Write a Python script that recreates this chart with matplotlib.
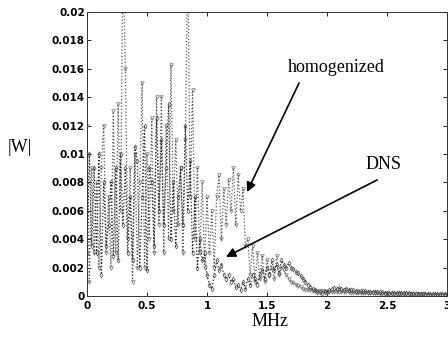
import numpy as np
import matplotlib
matplotlib.use("Agg")
import matplotlib.pyplot as plt

# frequency axis (MHz)
freq = [round(0.02 * i, 2) for i in range(151)]

# |W| values, in units of 1e-3
homogenized = [
    12, 1, 9, 3, 8, 2, 9, 12, 3, 7,
    2, 13, 3, 13.5, 6, 24, 16, 4, 9, 1,
    10, 2, 8, 15, 2, 10, 4, 12.5, 3, 14,
    5, 14, 3, 12, 4, 16.3, 6, 11, 5, 9,
    3, 11, 24, 7, 14.5, 4, 9, 3, 8, 2,
    7, 3, 6, 2, 7, 8.5, 4, 7.5, 5, 8.2,
    6, 9, 5, 8.5, 6, 7.5, 3.5, 4, 1.5, 3.5,
    1, 3, 1.2, 2.8, 1, 2.5, 1.5, 2, 1.2, 2.8,
    1.5, 2, 1.8, 1.5, 1.2, 1.0, 0.9, 0.8, 0.7, 0.6,
    0.5, 0.45, 0.42, 0.4, 0.38, 0.36, 0.35, 0.34, 0.33, 0.32,
    0.31, 0.3, 0.3, 0.29, 0.28, 0.28, 0.27, 0.26, 0.26, 0.25,
    0.24, 0.24, 0.23, 0.22, 0.22, 0.21, 0.2, 0.2, 0.19, 0.19,
    0.18, 0.18, 0.17, 0.17, 0.16, 0.16, 0.15, 0.15, 0.14, 0.14,
    0.14, 0.13, 0.13, 0.13, 0.12, 0.12, 0.12, 0.11, 0.11, 0.11,
    0.11, 0.1, 0.1, 0.1, 0.1, 0.1, 0.1, 0.1, 0.1, 0.1,
    0.1,
]
dns = [
    3, 10, 3.5, 9, 3, 10, 1.5, 8, 3.5, 5,
    8, 2.8, 9, 2.5, 10, 5, 9, 3, 7, 2.5,
    10.5, 9.5, 2, 7, 12, 1.8, 9, 8, 3.5, 12.5,
    6, 11, 5, 9, 13.5, 4, 8, 3.5, 7, 9,
    5, 12, 6, 9.5, 3, 7, 2, 4, 2.5, 3,
    1.5, 0.8, 0.5, 1.5, 2.5, 1.8, 2.2, 1.5, 1.2, 1.5,
    1.0, 1.2, 0.6, 0.8, 0.4, 1.0, 0.5, 1.2, 0.8, 1.5,
    1.2, 0.8, 1.5, 1.8, 1.2, 2.0, 1.5, 2.5, 1.8, 2.2,
    1.6, 2.5, 2.2, 2.0, 2.3, 2.0, 1.9, 1.7, 1.6, 1.4,
    1.2, 1.0, 0.8, 0.65, 0.5, 0.4, 0.3, 0.25, 0.2, 0.25,
    0.3, 0.4, 0.5, 0.55, 0.5, 0.55, 0.5, 0.45, 0.5, 0.45,
    0.4, 0.42, 0.38, 0.36, 0.35, 0.33, 0.32, 0.3, 0.3, 0.28,
    0.27, 0.26, 0.25, 0.25, 0.24, 0.23, 0.22, 0.22, 0.21, 0.2,
    0.2, 0.19, 0.19, 0.18, 0.18, 0.17, 0.17, 0.16, 0.16, 0.15,
    0.15, 0.15, 0.14, 0.14, 0.14, 0.13, 0.13, 0.13, 0.12, 0.12,
    0.12,
]

xticks = [0, 0.5, 1, 1.5, 2, 2.5, 3]
xticklabels = ["0", "0.5", "1", "1.5", "2", "2.5", "3"]
yticks = [0, 0.002, 0.004, 0.006, 0.008, 0.01, 0.012, 0.014, 0.016, 0.018, 0.02]
yticklabels = ["0", "0.002", "0.004", "0.006", "0.008", "0.01", "0.012",
               "0.014", "0.016", "0.018", "0.02"]

fig = plt.figure(figsize=(4.48, 3.37), dpi=100)
ax = fig.add_axes([0.194, 0.1217, 0.804, 0.8427])

h = np.array(homogenized) * 1e-3
d = np.array(dns) * 1e-3
ax.plot(freq, h, color="0.35", ls=":", lw=0.9, marker="v", ms=2.6,
        mfc="none", mec="0.45", mew=0.5)
ax.plot(freq, d, color="0.15", ls=":", lw=0.9, marker="d", ms=2.6,
        mfc="none", mec="0.3", mew=0.5)

ax.set_xlim(0, 3)
ax.set_ylim(0, 0.02)
ax.set_xticks(xticks)
ax.set_xticklabels(xticklabels)
ax.set_yticks(yticks)
ax.set_yticklabels(yticklabels)
ax.tick_params(direction="in", length=3, width=0.6, top=True, right=True,
               labelsize=7.5, colors="black")
ax.tick_params(axis="y", pad=1.5)
ax.tick_params(axis="x", pad=3.5)
for lab in ax.get_xticklabels() + ax.get_yticklabels():
    lab.set_fontweight("bold")
for s in ax.spines.values():
    s.set_linewidth(0.7)
    s.set_linestyle((0, (2, 1)))
    s.set_color("0.2")

serif = ["Liberation Serif", "DejaVu Serif"]
ax.text(2.08, 0.0161, "homogenized", family=serif, fontsize=13,
        ha="center", va="center")
ax.text(2.47, 0.00925, "DNS", family=serif, fontsize=13,
        ha="center", va="center")
ax.annotate("", xy=(1.333, 0.00732), xytext=(1.767, 0.0150),
            arrowprops=dict(arrowstyle="-|>", color="k", lw=1.2,
                            mutation_scale=14, shrinkA=0, shrinkB=0))
ax.annotate("", xy=(1.158, 0.00275), xytext=(2.417, 0.00817),
            arrowprops=dict(arrowstyle="-|>", color="k", lw=1.2,
                            mutation_scale=14, shrinkA=0, shrinkB=0))

fig.text(20 / 448, 1 - 147 / 337, "|W|", family=serif, fontsize=13,
         ha="center", va="center")
fig.text(270 / 448, 1 - 322 / 337, "MHz", family=serif, fontsize=13,
         ha="center", va="center")

fig.savefig("out.png", dpi=100)
